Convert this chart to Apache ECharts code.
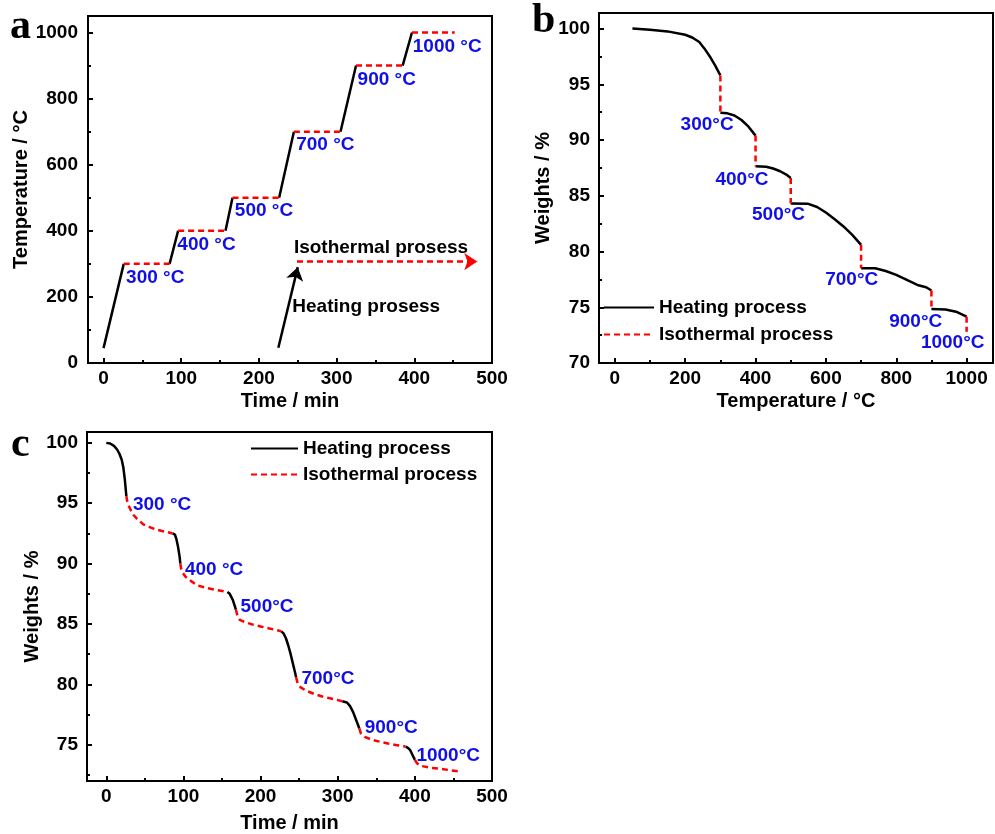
<!DOCTYPE html>
<html>
<head>
<meta charset="utf-8">
<script src="https://cdn.jsdelivr.net/npm/echarts@6/dist/echarts.min.js"></script>
<style>
  html, body { margin: 0; padding: 0; background: #fff; }
  #chart { width: 995px; height: 834px; }
</style>
</head>
<body>
<div id="chart"></div>
<script>
// ---------- Panel a: furnace temperature programme (time / min, temperature / °C) ----------
const rampSegments = [
  [[0, 45], [26, 300]],
  [[85, 300], [96, 400]],
  [[157, 400], [166, 500]],
  [[226, 500], [245, 700]],
  [[305, 700], [325, 900]],
  [[385, 900], [397, 1000]]
];
const holdSegments = [
  [[26, 300], [85, 300]],
  [[96, 400], [157, 400]],
  [[166, 500], [226, 500]],
  [[245, 700], [305, 700]],
  [[325, 900], [385, 900]],
  [[397, 1000], [452, 1000]]
];
const holdLabelsA = ['300 °C', '400 °C', '500 °C', '700 °C', '900 °C', '1000 °C'];
const holdLabelPosA = [[29, 258], [95, 358], [169, 462], [248, 659], [327, 856], [398, 957]];

// ---------- Panel b: weight against temperature ----------
const tgaHeatSegments = [
  [[50, 100], [100, 99.9], [150, 99.75], [200, 99.45], [220, 99.2], [240, 98.8], [255, 98.2], [270, 97.5], [285, 96.7], [300, 95.8]],
  [[300, 92.45], [320, 92.4], [340, 92.2], [360, 91.8], [380, 91.2], [400, 90.4]],
  [[400, 87.65], [430, 87.6], [450, 87.45], [470, 87.2], [490, 86.85], [500, 86.6]],
  [[500, 84.3], [550, 84.28], [575, 84.0], [600, 83.5], [625, 82.9], [650, 82.25], [675, 81.5], [700, 80.6]],
  [[700, 78.5], [740, 78.5], [770, 78.25], [800, 77.9], [830, 77.45], [860, 77.0], [885, 76.8], [900, 76.5]],
  [[900, 74.85], [940, 74.8], [970, 74.6], [1000, 74.15]]
];
const tgaHoldSegments = [
  [[300, 95.8], [300, 92.45]],
  [[400, 90.4], [400, 87.65]],
  [[500, 86.6], [500, 84.3]],
  [[700, 80.6], [700, 78.5]],
  [[900, 76.5], [900, 74.85]],
  [[1000, 74.15], [1000, 72.8]]
];
const holdLabelsB = ['300°C', '400°C', '500°C', '700°C', '900°C', '1000°C'];
const holdLabelPosB = [[187, 91.4], [286, 86.46], [390, 83.3], [598, 77.5], [780, 73.73], [870, 71.8]];

// ---------- Panel c: weight against time ----------
const timeHeatSegments = [
  [[0, 100], [5, 99.95], [10, 99.75], [14, 99.45], [17, 99.1], [20, 98.6], [22, 98.0], [24, 97.0], [25, 96.3], [26, 95.6]],
  [[86, 92.5], [89, 92.4], [91, 92.0], [93, 91.4], [95, 90.6], [96, 90.0]],
  [[157, 87.65], [160, 87.5], [162, 87.25], [164, 87.0], [166, 86.6], [168, 86.2]],
  [[227, 84.4], [230, 84.2], [233, 83.8], [236, 83.2], [239, 82.5], [242, 81.7], [245, 80.9], [246, 80.6]],
  [[306, 78.6], [312, 78.5], [316, 78.2], [320, 77.7], [323, 77.2], [326, 76.7], [328, 76.35]],
  [[388, 74.85], [391, 74.75], [394, 74.55], [397, 74.15], [400, 73.75]]
];
const timeHoldSegments = [
  [[26, 95.6], [27, 95.2], [29, 94.8], [32, 94.4], [35, 94.05], [40, 93.7], [48, 93.25], [57, 93.0], [66, 92.8], [76, 92.65], [86, 92.5]],
  [[96, 90.0], [97, 89.6], [99, 89.25], [103, 88.9], [110, 88.55], [118, 88.2], [130, 87.98], [143, 87.82], [157, 87.65]],
  [[168, 86.2], [170, 85.7], [173, 85.35], [180, 85.15], [190, 84.95], [200, 84.8], [210, 84.65], [220, 84.5], [227, 84.4]],
  [[246, 80.6], [248, 80.1], [252, 79.75], [260, 79.45], [270, 79.2], [280, 79.0], [290, 78.85], [300, 78.7], [306, 78.6]],
  [[328, 76.35], [330, 75.95], [335, 75.65], [345, 75.4], [355, 75.25], [365, 75.1], [375, 74.98], [388, 74.85]],
  [[400, 73.75], [403, 73.45], [408, 73.25], [420, 73.1], [435, 73.0], [445, 72.9], [456, 72.8]]
];
const holdLabelsC = ['300 °C', '400 °C', '500°C', '700°C', '900°C', '1000°C'];
const holdLabelPosC = [[34.5, 94.85], [102, 89.47], [174, 86.4], [253, 80.43], [335, 76.43], [402, 74.1]];

// ---------- Tick values ----------
const timeTicks = [0, 100, 200, 300, 400, 500];
const timeMinorTicks = [50, 150, 250, 350, 450];
const tempTicks = [0, 200, 400, 600, 800, 1000];
const tempMinorTicks = [100, 300, 500, 700, 900];
const tempAxisTicksB = [0, 200, 400, 600, 800, 1000];
const tempAxisMinorTicksB = [100, 300, 500, 700, 900];
const weightTicksB = [70, 75, 80, 85, 90, 95, 100];
const weightMinorTicksB = [72.5, 77.5, 82.5, 87.5, 92.5, 97.5];
const weightTicksC = [75, 80, 85, 90, 95, 100];
const weightMinorTicksC = [72.5, 77.5, 82.5, 87.5, 92.5, 97.5];

const legendNames = ['Heating process', 'Isothermal process'];

// ---------- Styling ----------
const FONT = '"Liberation Sans", Arial, sans-serif';
const SERIF = '"Liberation Serif", "Times New Roman", serif';
const BLUE = '#1010e6';
const RED = '#ff0000';
const DASH = [6, 4];

// Joins separate segments into one data array with gaps between them
function joinSegments(segs) {
  const out = [];
  segs.forEach((s, i) => {
    if (i > 0) out.push(['-', '-']);
    s.forEach(p => out.push(p));
  });
  return out;
}

function majorAxis(kind, gridIndex, min, max, ticks, name, nameGap, labelMargin) {
  return {
    type: 'value', gridIndex, min, max,
    position: kind === 'x' ? 'bottom' : 'left',
    name, nameLocation: 'middle', nameGap,
    nameTextStyle: { fontFamily: FONT, fontWeight: 'bold', fontSize: 20, color: '#000' },
    axisLine: { show: true, onZero: false, lineStyle: { color: '#000', width: 2 } },
    axisTick: { show: true, inside: true, length: 5, customValues: ticks, lineStyle: { color: '#000', width: 2 } },
    axisLabel: {
      show: true, customValues: ticks, margin: labelMargin,
      formatter: v => String(v),
      fontFamily: FONT, fontWeight: 'bold', fontSize: 19, color: '#000'
    },
    splitLine: { show: false }
  };
}

function minorAxis(kind, gridIndex, min, max, ticks) {
  return {
    type: 'value', gridIndex, min, max,
    position: kind === 'x' ? 'bottom' : 'left',
    axisLine: { show: false, onZero: false },
    axisTick: { show: true, inside: true, length: 3, customValues: ticks, lineStyle: { color: '#000', width: 2 } },
    axisLabel: { show: false },
    splitLine: { show: false }
  };
}

function curve(name, segs, xi, yi, dashed, extra) {
  return Object.assign({
    type: 'line', name, xAxisIndex: xi, yAxisIndex: yi,
    data: joinSegments(segs),
    showSymbol: false, symbol: 'none', connectNulls: false,
    lineStyle: dashed ? { color: RED, width: 2.5, type: DASH } : { color: '#000', width: 2.5 },
    itemStyle: { color: dashed ? RED : '#000' },
    animation: false, silent: true
  }, extra || {});
}

function labels(names, pos, xi, yi) {
  return {
    type: 'scatter', name: 'labels' + xi, xAxisIndex: xi, yAxisIndex: yi,
    symbolSize: 0, silent: true, animation: false,
    itemStyle: { opacity: 1 },
    data: names.map((n, i) => ({ name: n, value: pos[i] })),
    label: {
      show: true, position: 'right', distance: 0, formatter: '{b}',
      color: BLUE, fontFamily: FONT, fontWeight: 'bold', fontSize: 19
    }
  };
}

function note(text, pos, xi, yi) {
  return {
    type: 'scatter', name: 'note-' + text, xAxisIndex: xi, yAxisIndex: yi,
    symbolSize: 0, silent: true, animation: false,
    itemStyle: { opacity: 1 },
    data: [{ name: text, value: pos }],
    label: { show: true, position: 'right', distance: 0, formatter: '{b}',
      color: '#000', fontFamily: FONT, fontWeight: 'bold', fontSize: 19 }
  };
}

const gridBase = { show: true, borderColor: '#000', borderWidth: 2, backgroundColor: 'transparent', containLabel: false };
const legendBase = {
  orient: 'vertical', padding: 0, data: legendNames, selectedMode: false,
  itemHeight: 14, itemStyle: { opacity: 0, borderWidth: 0 },
  textStyle: { fontFamily: FONT, fontWeight: 'bold', fontSize: 19, color: '#000' }
};

const option = {
  backgroundColor: '#fff',
  animation: false,
  grid: [
    Object.assign({ left: 88, top: 16, width: 404, height: 347 }, gridBase),
    Object.assign({ left: 599, top: 13, width: 394, height: 350 }, gridBase),
    Object.assign({ left: 87, top: 432, width: 405, height: 349 }, gridBase)
  ],
  xAxis: [
    majorAxis('x', 0, -20, 500, timeTicks, 'Time / min', 28, 6),
    minorAxis('x', 0, -20, 500, timeMinorTicks),
    majorAxis('x', 1, -45, 1075, tempAxisTicksB, 'Temperature / °C', 28, 6),
    minorAxis('x', 1, -45, 1075, tempAxisMinorTicksB),
    majorAxis('x', 2, -25, 500, timeTicks, 'Time / min', 32, 6),
    minorAxis('x', 2, -25, 500, timeMinorTicks)
  ],
  yAxis: [
    majorAxis('y', 0, 0, 1050, tempTicks, 'Temperature / °C', 50, 10),
    minorAxis('y', 0, 0, 1050, tempMinorTicks),
    majorAxis('y', 1, 70, 101.4, weightTicksB, 'Weights / %', 46, 9),
    minorAxis('y', 1, 70, 101.4, weightMinorTicksB),
    majorAxis('y', 2, 72, 100.9, weightTicksC, 'Weights / %', 34, 9),
    minorAxis('y', 2, 72, 100.9, weightMinorTicksC)
  ],
  legend: [
    Object.assign({ left: 603, top: 298, itemGap: 8, itemWidth: 50 }, legendBase),
    Object.assign({ left: 250, top: 439, itemGap: 7, itemWidth: 47 }, legendBase)
  ],
  series: [
    // Panel a
    curve('Heating process', rampSegments, 0, 0, false, {
      markLine: {
        silent: true, animation: false, symbol: ['none', 'arrow'], symbolSize: 13,
        label: { show: false },
        lineStyle: { color: '#000', width: 2.5, type: 'solid' },
        data: [[{ coord: [225, 46] }, { coord: [250, 290] }]]
      }
    }),
    curve('Isothermal process', holdSegments, 0, 0, true, {
      markLine: {
        silent: true, animation: false, symbol: ['none', 'arrow'], symbolSize: 13,
        label: { show: false },
        lineStyle: { color: RED, width: 2.5, type: DASH },
        data: [[{ coord: [249, 307] }, { coord: [481, 307] }]]
      }
    }),
    labels(holdLabelsA, holdLabelPosA, 0, 0),
    note('Isothermal prosess', [245, 348], 0, 0),
    note('Heating prosess', [243, 170], 0, 0),
    // Panel b
    curve('Heating process', tgaHeatSegments, 2, 2, false),
    curve('Isothermal process', tgaHoldSegments, 2, 2, true),
    labels(holdLabelsB, holdLabelPosB, 2, 2),
    // Panel c
    curve('Heating process', timeHeatSegments, 4, 4, false),
    curve('Isothermal process', timeHoldSegments, 4, 4, true),
    labels(holdLabelsC, holdLabelPosC, 4, 4)
  ],
  graphic: [
    { type: 'text', left: 10, top: 6, silent: true, style: { text: 'a', font: 'bold 42px ' + SERIF, fill: '#000' } },
    { type: 'text', left: 532, top: 0, silent: true, style: { text: 'b', font: 'bold 42px ' + SERIF, fill: '#000' } },
    { type: 'text', left: 11, top: 424, silent: true, style: { text: 'c', font: 'bold 42px ' + SERIF, fill: '#000' } }
  ]
};

const chart = echarts.init(document.getElementById('chart'), null, { renderer: 'canvas' });
chart.setOption(option);
</script>
</body>
</html>
